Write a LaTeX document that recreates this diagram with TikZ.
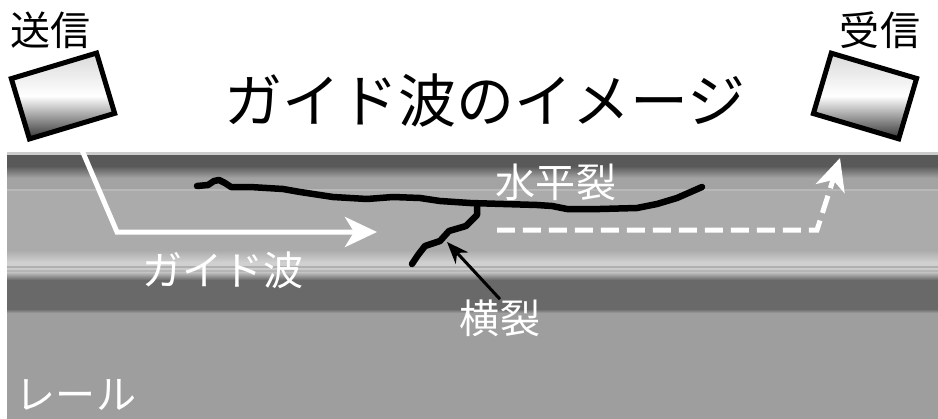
\documentclass[tikz,border=0pt]{standalone}
\usepackage{fontspec}
\setmainfont{Noto Sans CJK JP}
\usetikzlibrary{arrows.meta}

\definecolor{railtop}{gray}{0.80}
\definecolor{raildark}{gray}{0.35}
\definecolor{railmid}{gray}{0.64}
\definecolor{railface}{gray}{0.67}
\definecolor{railweb}{gray}{0.41}
\definecolor{railfoot}{gray}{0.62}

\begin{document}
\begin{tikzpicture}[x=0.02cm,y=-0.02cm,
    sensor/.style={draw=black,line width=0.1cm,minimum width=1.78cm,minimum height=1.26cm,inner sep=0pt,
        top color=gray!30,bottom color=black!80,middle color=white},
    wave/.style={draw=white,line width=0.1cm,-{Stealth[length=0.64cm,width=0.6cm,inset=0.18cm]}},
    crack/.style={draw=black,line width=0.13cm,line join=round,line cap=round},
    pointer/.style={draw=black,line width=0.06cm,-{Stealth[length=0.44cm,width=0.34cm]}},
    lbl/.style={text=white,font=\fontsize{22.8}{24}\selectfont,inner sep=0pt},
    toplbl/.style={text=black,font=\fontsize{22.8}{24}\selectfont,inner sep=0pt}]

    \useasboundingbox (0,0) rectangle (938,419);

    % rail bands
    \fill[railtop] (7,152) rectangle (938,155);
    \fill[raildark] (7,155) rectangle (938,166);
    \shade[top color=raildark,bottom color=railmid] (7,166) rectangle (938,178);
    \fill[railmid] (7,178) rectangle (938,189);
    \fill[gray!56] (7,189) rectangle (938,191);
    \fill[railface] (7,191) rectangle (938,250);
    \shade[top color=railface,bottom color=gray!38] (7,250) rectangle (938,262);
    \fill[gray!37] (7,262) rectangle (938,266);
    \fill[gray!62] (7,266) rectangle (938,268);
    \fill[gray!40] (7,268) rectangle (938,270);
    \fill[gray!58] (7,270) rectangle (938,272);
    \shade[top color=gray!46,bottom color=railweb] (7,272) rectangle (938,280);
    \fill[railweb] (7,280) rectangle (938,309);
    \shade[top color=railweb,bottom color=railfoot] (7,309) rectangle (938,313);
    \fill[railfoot] (7,313) rectangle (938,419);

    \node[sensor,rotate=16.7] (tx) at (63,96) {};
    \node[sensor,rotate=-16.5] (rx) at (865,96) {};
    \node[toplbl] (tx-lbl) at (51,30) {送信};
    \node[toplbl] (rx-lbl) at (880,30) {受信};
    \node[font=\fontsize{33}{36}\selectfont,inner sep=0pt] (title) at (485,100) {ガイド波のイメージ};

    % cracks
    \draw[crack] (197,186) -- (208,185) -- (214,181) -- (219,180) -- (225,183) -- (231,187) -- (250,187)
        -- (283,189) -- (300,192) -- (333,197) -- (367,199) -- (380,198) -- (393,197) -- (420,198)
        -- (440,201) -- (470,203) -- (537,205) -- (552,206) -- (567,209) -- (600,209) -- (637,208)
        -- (657,204) -- (677,198) -- (702,187);
    \draw[crack] (477,204) -- (477,215) -- (466,226) -- (449,231) -- (440,241) -- (425,246)
        -- (418,255) -- (412,264);

    \coordinate (wave-bend) at (117,232);
    \coordinate (wave-end) at (377,232);
    \coordinate (echo-start) at (497,230);
    \coordinate (echo-bend) at (817,230);
    \coordinate (echo-end) at (840,158);
    \coordinate (cross-tip) at (447,242);

    \draw[wave,shorten <=4pt] (tx.south) -- (wave-bend) -- (wave-end);
    \draw[wave,dash pattern=on 0.36cm off 0.16cm] (echo-start) -- (echo-bend) -- (echo-end);

    \node[lbl] (wave-lbl) at (223,270) {ガイド波};
    \node[lbl] (horiz-lbl) at (556,182) {水平裂};
    \node[lbl] (cross-lbl) at (500,318) {横裂};
    \node[lbl] (rail-lbl) at (76,395) {レール};

    \draw[pointer] (cross-lbl.north) -- (cross-tip);

\end{tikzpicture}
\end{document}
